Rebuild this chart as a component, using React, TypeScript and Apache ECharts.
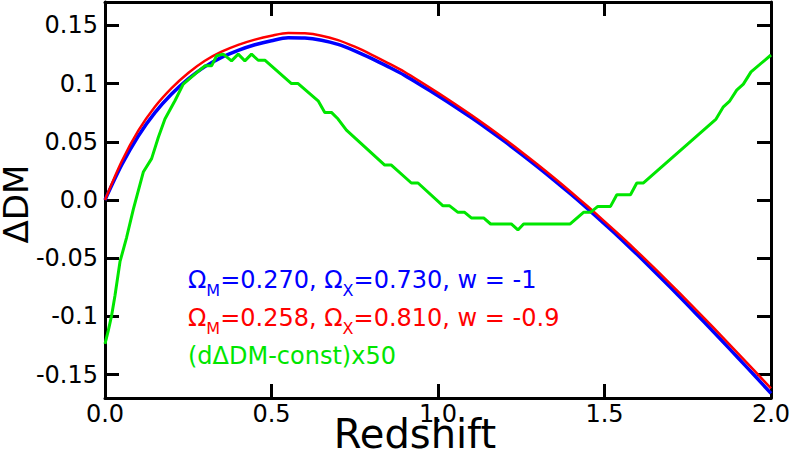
import React, { useEffect, useRef } from 'react';
import * as echarts from 'echarts';

const FONT = 'DejaVu Sans';

const xTicks = [0, 0.5, 1.0, 1.5, 2.0];
const yTicks = [-0.15, -0.1, -0.05, 0, 0.05, 0.1, 0.15];

const blueZ = [0, 0.05, 0.1, 0.15, 0.2, 0.25, 0.3, 0.35, 0.4, 0.45, 0.5, 0.55, 0.6, 0.65, 0.7, 0.75, 0.8, 0.85, 0.9, 0.95, 1.0, 1.05, 1.1, 1.15, 1.2, 1.25, 1.3, 1.35, 1.4, 1.45, 1.5, 1.55, 1.6, 1.65, 1.7, 1.75, 1.8, 1.85, 1.9, 1.95, 2.0];
const blueV = [0, 0.03, 0.055, 0.075, 0.091, 0.104, 0.1145, 0.1225, 0.1285, 0.1333, 0.1368, 0.1392, 0.139, 0.1372, 0.1336, 0.1281, 0.1216, 0.1145, 0.107, 0.0984, 0.0895, 0.0803, 0.0707, 0.0607, 0.0503, 0.0395, 0.0283, 0.0167, 0.0047, -0.0077, -0.0205, -0.0337, -0.0473, -0.0613, -0.0756, -0.0902, -0.105, -0.12, -0.1352, -0.1505, -0.166];

const redZ = blueZ;
const redV = [0, 0.033, 0.0595, 0.08, 0.096, 0.109, 0.1195, 0.1273, 0.1332, 0.1377, 0.1411, 0.1434, 0.1431, 0.1411, 0.1373, 0.1316, 0.1249, 0.1176, 0.1099, 0.1011, 0.092, 0.0826, 0.0729, 0.0628, 0.0523, 0.0415, 0.0303, 0.0187, 0.0067, -0.0056, -0.0183, -0.0313, -0.0447, -0.0585, -0.0726, -0.087, -0.1016, -0.1164, -0.1314, -0.1465, -0.1618];

const greenZ = [0, 0.01, 0.02, 0.03, 0.045, 0.065, 0.085, 0.115, 0.14, 0.16, 0.18, 0.21, 0.235, 0.27, 0.3, 0.32, 0.335, 0.355, 0.38, 0.4, 0.42, 0.44, 0.46, 0.48, 0.56, 0.58, 0.64, 0.66, 0.68, 0.7, 0.725, 0.84, 0.86, 0.92, 0.94, 1.015, 1.035, 1.06, 1.08, 1.1, 1.137, 1.158, 1.22, 1.24, 1.257, 1.397, 1.437, 1.458, 1.48, 1.518, 1.537, 1.578, 1.597, 1.617, 1.835, 1.857, 1.875, 1.897, 1.917, 1.94, 2.0];
const greenV = [-0.1235, -0.112, -0.099, -0.082, -0.053, -0.032, -0.008, 0.024, 0.0355, 0.0537, 0.0695, 0.0852, 0.0995, 0.108, 0.1152, 0.1152, 0.1238, 0.1252, 0.1195, 0.1252, 0.1195, 0.1252, 0.12, 0.12, 0.1, 0.1, 0.0852, 0.0752, 0.0752, 0.0695, 0.06, 0.03, 0.03, 0.0146, 0.0146, -0.005, -0.005, -0.0106, -0.0106, -0.0154, -0.0154, -0.0206, -0.0206, -0.0257, -0.0206, -0.0206, -0.0106, -0.0106, -0.0055, -0.0055, 0.0045, 0.0045, 0.0146, 0.0146, 0.0695, 0.08, 0.0846, 0.0943, 0.0995, 0.11, 0.1245];

const BLUE = '#0000ff';
const RED = '#ff0000';
const GREEN = '#00e600';

export default function App() {
  const ref = useRef<HTMLDivElement>(null);
  useEffect(() => {
    document.body.style.margin = '0';
    const chart = echarts.init(ref.current!, null, { renderer: 'svg' });
    const axisLine = { show: true, onZero: false, lineStyle: { color: '#000', width: 3 } };
    const axisTick = { show: true, inside: true, length: 14, lineStyle: { color: '#000', width: 3 } };
    const legendRich = (color: string) => ({
      a: { fontSize: 24, fontFamily: FONT, fill: color, verticalAlign: 'top', lineHeight: 24 },
      s: { fontSize: 16, fontFamily: FONT, fill: color, verticalAlign: 'top', lineHeight: 16, padding: [14, 0, 0, 0] },
    });
    chart.setOption({
      animation: false,
      backgroundColor: '#fff',
      grid: { left: 105, right: 18, top: 2, bottom: 64, containLabel: false, outerBoundsMode: 'none' },
      xAxis: [
        {
          type: 'value', min: 0, max: 2, interval: 0.5, position: 'bottom',
          axisLine, axisTick: { ...axisTick, customValues: xTicks },
          axisLabel: { customValues: xTicks, color: '#000', fontSize: 24, fontFamily: FONT, margin: 8, lineHeight: 16, formatter: (v: number) => v.toFixed(1) },
          splitLine: { show: false },
          name: 'Redshift', nameLocation: 'middle', nameGap: 24, nameMoveOverlap: false,
          nameTextStyle: { fontSize: 40, fontFamily: FONT, color: '#000', verticalAlign: 'top', lineHeight: 24, padding: [0, 46, 0, 0] },
        },
        {
          type: 'value', min: 0, max: 2, interval: 0.5, position: 'top',
          axisLine, axisTick: { ...axisTick, customValues: xTicks },
          axisLabel: { show: false }, splitLine: { show: false },
        },
      ],
      yAxis: [
        {
          type: 'value', min: -0.17, max: 0.17, position: 'left',
          axisLine, axisTick: { ...axisTick, customValues: yTicks },
          axisLabel: { customValues: yTicks, color: '#000', fontSize: 24, fontFamily: FONT, margin: 7, formatter: (v: number) => (v === 0 ? '0.0' : String(v)) },
          splitLine: { show: false },
          name: 'ΔDM', nameLocation: 'middle', nameGap: 75, nameRotate: 90, nameMoveOverlap: false,
          nameTextStyle: { fontSize: 34, fontFamily: FONT, color: '#000', lineHeight: 28, padding: [0, 8, 0, 0] },
        },
        {
          type: 'value', min: -0.17, max: 0.17, position: 'right',
          axisLine, axisTick: { ...axisTick, customValues: yTicks },
          axisLabel: { show: false }, splitLine: { show: false },
        },
      ],
      series: [
        { type: 'line', name: 'blue', data: blueZ.map((z, i) => [z, blueV[i]]), showSymbol: false, symbol: 'none', smooth: 0.3, lineStyle: { color: BLUE, width: 3.5 }, z: 2 },
        { type: 'line', name: 'red', data: redZ.map((z, i) => [z, redV[i]]), showSymbol: false, symbol: 'none', smooth: 0.3, lineStyle: { color: RED, width: 2.5 }, z: 3 },
        { type: 'line', name: 'green', data: greenZ.map((z, i) => [z, greenV[i]]), showSymbol: false, symbol: 'none', lineStyle: { color: GREEN, width: 3 }, z: 4 },
      ],
      graphic: [
        { type: 'text', left: 188, top: 268, style: { text: '{a|Ω}{s|M}{a|=0.270, Ω}{s|X}{a|=0.730, w = -1}', rich: legendRich(BLUE) } },
        { type: 'text', left: 188, top: 306, style: { text: '{a|Ω}{s|M}{a|=0.258, Ω}{s|X}{a|=0.810, w = -0.9}', rich: legendRich(RED) } },
        { type: 'text', left: 188, top: 344, style: { text: '{a|(dΔDM-const)x50}', rich: legendRich(GREEN) } },
      ],
    });
    return () => chart.dispose();
  }, []);
  return <div ref={ref} style={{ width: 789, height: 462 }} />;
}
